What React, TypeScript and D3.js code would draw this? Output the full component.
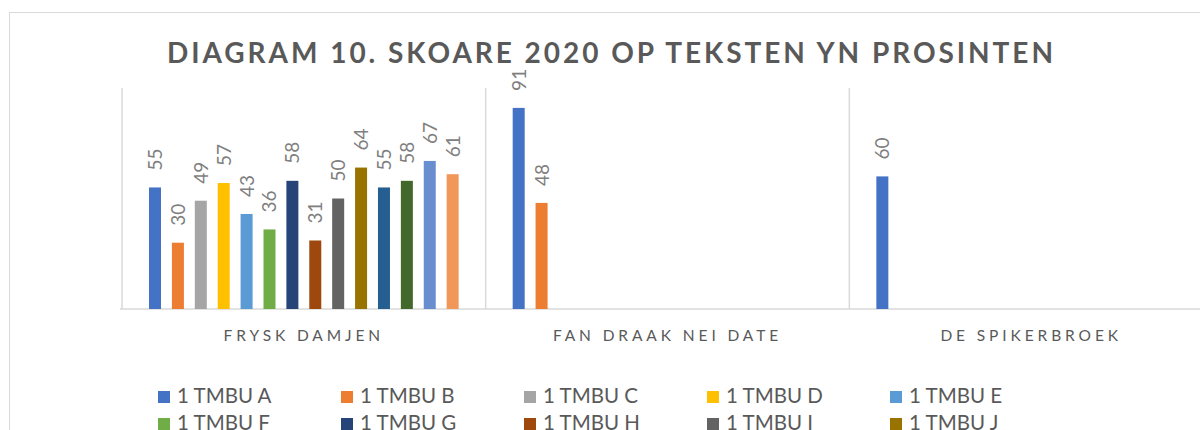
import { useMemo } from 'react';
import * as d3 from 'd3';

const title = 'DIAGRAM 10. SKOARE 2020 OP TEKSTEN YN PROSINTEN';
const categories = ['FRYSK DAMJEN', 'FAN DRAAK NEI DATE', 'DE SPIKERBROEK'];
const series = [
  '1 TMBU A', '1 TMBU B', '1 TMBU C', '1 TMBU D', '1 TMBU E', '1 TMBU F', '1 TMBU G',
  '1 TMBU H', '1 TMBU I', '1 TMBU J', '1 TMBU K', '1 TMBU L', '1 TMBU M', '1 TMBU N'
];
// values per category, in series order (missing = no bar)
const fryskDamjen = [55, 30, 49, 57, 43, 36, 58, 31, 50, 64, 55, 58, 67, 61];
const fanDraak = [91, 48];
const spikerbroek = [60];
const colors = [
  '#4472C4', '#ED7D31', '#A5A5A5', '#FFC000', '#5B9BD5', '#70AD47', '#264478',
  '#9E480E', '#636363', '#997300', '#255E91', '#43682B', '#698ED0', '#F1975A'
];

const W = 1200;
const H = 430;
const font = 'Lato, "Open Sans", sans-serif';

export default function App() {
  const x0 = d3.scaleBand().domain(categories).range([122, 1213]);
  const x1 = d3.scaleBand()
    .domain(series)
    .range([0, x0.bandwidth()])
    .paddingInner(0.476)
    .paddingOuter(1.18);
  const y = d3.scaleLinear().domain([0, 100]).range([309, 88]);

  const bars = useMemo(() => {
    const rows = [fryskDamjen, fanDraak, spikerbroek];
    const out: { cat: string; s: string; v: number; i: number }[] = [];
    rows.forEach((vals, ci) => {
      vals.forEach((v, si) => out.push({ cat: categories[ci], s: series[si], v, i: si }));
    });
    return out;
  }, []);

  const legendCols = 5;

  return (
    <div style={{ position: 'fixed', left: 0, top: 0 }}>
      <svg width={W} height={H} style={{ display: 'block', background: '#fff' }}>
        <rect x={9.5} y={12.5} width={1230} height={500} fill="#fff" stroke="#D9D9D9" />
        <text
          x={610}
          y={63}
          textAnchor="middle"
          fontFamily={font}
          fontWeight={700}
          fontSize={28}
          fill="#595959"
          textLength={886}
          lengthAdjust="spacing"
        >
          {title}
        </text>

        {/* category dividers */}
        {[...categories.map(c => x0(c)!), x0.range()[1]].map((xv, i) => (
          <line key={i} x1={xv} x2={xv} y1={y(100)} y2={y(0)} stroke="#D9D9D9" strokeWidth={1.5} />
        ))}
        <line x1={120} x2={1230} y1={y(0)} y2={y(0)} stroke="#D9D9D9" strokeWidth={1.5} />

        {bars.map(b => {
          const bx = x0(b.cat)! + x1(b.s)!;
          const bw = x1.bandwidth();
          return (
            <g key={b.cat + b.s}>
              <rect x={bx} y={y(b.v)} width={bw} height={y(0) - y(b.v)} fill={colors[b.i]} />
              <text
                transform={`translate(${bx + bw / 2 + 7},${y(b.v) - 17}) rotate(-90)`}
                fontFamily={font}
                fontSize={19}
                fill="#7F7F7F"
              >
                {b.v}
              </text>
            </g>
          );
        })}

        {categories.map(c => (
          <text
            key={c}
            x={x0(c)! + x0.bandwidth() / 2}
            y={340.5}
            textAnchor="middle"
            fontFamily={font}
            fontSize={15.5}
            letterSpacing={3.9}
            fill="#595959"
          >
            {c}
          </text>
        ))}

        {series.map((s, i) => {
          const lx = 158 + (i % legendCols) * 183;
          const ly = 391 + Math.floor(i / legendCols) * 27;
          return (
            <g key={s}>
              <rect x={lx} y={ly} width={12} height={12} fill={colors[i]} />
              <text x={lx + 19} y={ly + 12} fontFamily={font} fontSize={20.5} fill="#595959">
                {s}
              </text>
            </g>
          );
        })}
      </svg>
    </div>
  );
}
